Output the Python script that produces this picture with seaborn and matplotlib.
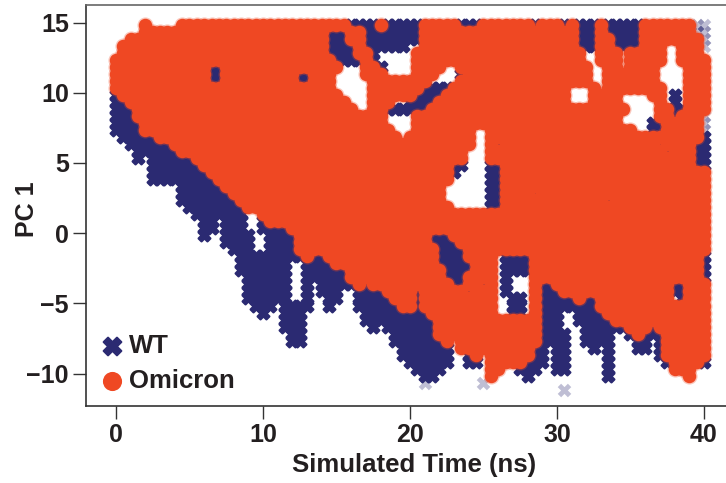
import matplotlib
matplotlib.use("Agg")
import matplotlib.pyplot as plt
import numpy as np
import pandas as pd
import seaborn as sns

# Time grid (ns) and PC 1 levels the picture was read on
times = [0.0, 0.5, 1.0, 1.5, 2.0, 2.5, 3.0, 3.5, 4.0, 4.5, 5.0, 5.5, 6.0, 6.5, 7.0, 7.5, 8.0, 8.5, 9.0, 9.5,
         10.0, 10.5, 11.0, 11.5, 12.0, 12.5, 13.0, 13.5, 14.0, 14.5, 15.0, 15.5, 16.0, 16.5, 17.0, 17.5, 18.0, 18.5, 19.0, 19.5,
         20.0, 20.5, 21.0, 21.5, 22.0, 22.5, 23.0, 23.5, 24.0, 24.5, 25.0, 25.5, 26.0, 26.5, 27.0, 27.5, 28.0, 28.5, 29.0, 29.5,
         30.0, 30.5, 31.0, 31.5, 32.0, 32.5, 33.0, 33.5, 34.0, 34.5, 35.0, 35.5, 36.0, 36.5, 37.0, 37.5, 38.0, 38.5, 39.0, 39.5,
         40.0]
pc1_levels = [14.85, 14.35, 13.85, 13.35, 12.85, 12.35, 11.85, 11.35, 10.85, 10.35,
              9.85, 9.35, 8.85, 8.35, 7.85, 7.35, 6.85, 6.35, 5.85, 5.35,
              4.85, 4.35, 3.85, 3.35, 2.85, 2.35, 1.85, 1.35, 0.85, 0.35,
              -0.15, -0.65, -1.15, -1.65, -2.15, -2.65, -3.15, -3.65, -4.15, -4.65,
              -5.15, -5.65, -6.15, -6.65, -7.15, -7.65, -8.15, -8.65, -9.15, -9.65,
              -10.15, -10.65, -11.15]

# What shows at each time/level: o = Omicron, w = WT, x = lone WT frame
frames = [
    "....o....o oooooooooo oooooooooo oowwwwowww wwooooowww ooooooowoo owowwwowww wwooooooox x",
    "....oooooo oooooooooo ooooooooow wwoowwwwww wwoooooooo oooooooooo ooowwwowww wwooooooox x",
    "..oooooooo oooooooooo ooooooooow wwoowwwwww wwoooooooo oooooooooo ooowwwooww wwoooooooo x",
    ".ooooooooo oooooooooo ooooooooow wwwowwwwww ..oooooooo oooooooooo ooowwwooww wwooo..ooo x",
    ".ooooooooo oooooooooo ooooooooow wwwoow.... .ooooooooo oooooooooo oooo..ooo. ooooo..ooo .",
    "oooooooooo oooooooooo oooooooooo wwwwow.... .ooooooooo oooooooooo oooo..ooo. ooooo..ooo o",
    "oooooooooo ooowwooooo oooooooooo o...oow... .oooo..ooo oooooooooo ooooo..oo. oooo....oo o",
    "oooooooooo ooowwooooo ooooowwooo ....ooo... .ooo...woo oooooooooo ooooo..ooo oooo....oo o",
    "oooooooooo ooowwooooo ooooowwooo .....ooooo ooo....ooo oooooooooo ooooo..ooo oooo....oo o",
    "oooooooooo oooooooooo oooooooooo .....ooooo oowwwwoooo oooooooooo oo...o.ooo ooooo...oo o",
    "wooooooooo oooooooooo oooooooooo o....ooooo owwwwooooo oooooooooo oo...oooo. ...oo.w.oo o",
    "wwoooooooo oooooooooo oooooooooo oo...ooo.. wwwwoooooo oooooooooo oo...oooo. ....o.w.oo o",
    "wwwooooooo oooooooooo oooooooooo ooo..oowww wwwooooooo oooooooooo oooooooooo ....oowwoo o",
    "wwwooooooo oooooooooo oooooooooo ooooooo... .ooooooooo oooooooooo ooooooooo. ....oowooo x",
    "wwwwoooooo oooooooooo oooooooooo ooooooo... .ooooooooo oooooooooo ooooooooo. ...wwooooo x",
    "wwwwoooooo oooooooooo oooooooooo oooooooo.. .oooooooo. .ooooooooo oooooooooo o..wwooooo x",
    ".wwwwwoooo oooooooooo oooooooooo ooooooooo. ooooooooo. .ooooooooo oooooooooo oooooooooo w",
    "..wwwwwwoo oooooooooo oooooooooo oooooooooo ooooooooo. .owooooooo oooooooooo oooowoooow w",
    "...wwwwwwo oooooooooo oooooooooo oooooooooo oooooooo.. .ooooooooo oooooooooo ooooowooow w",
    "...w.wwwww wooooooooo oooooooooo oooooooooo oooooooo.. .ooooooooo oooooooooo ooooooooow w",
    ".....wwwww wwoooooooo oooooooooo oooooooooo ooooooww.. .wwooooooo oooooooooo ooooooooow w",
    ".....wwwww wwwooooooo oooooooooo oooooooooo oooooow... .wwooooooo oooooooooo oooooooooo o",
    ".....wwwww wwwwoooooo oooooooooo oooooooooo oooooo.... .wwooooooo oooooooooo oooooooooo o",
    ".........w wwwwwooooo oooooooooo oooooooooo ooooo..... .wwooooooo oooooooooo oooooooooo o",
    ".........w wwwwwwoooo oooooooooo oooooooooo ooooo..... .wwoooowoo oooooooooo oooooooooo o",
    ".........w wwwwwwwooo oooooooooo oooooooooo ooooo..... .wwooooooo ooooooowoo oooooooooo o",
    ".......... wwwwwwwwoo oooooooooo oooooooooo oooooo.... .wwooooooo oooooooooo oooooooooo o",
    ".......... .wwwwwww.. oooooooooo oooooooooo oooooooooo oooooooooo oooooooooo oooooooooo o",
    ".......... ..ww.www.. wooooooooo oooooooooo oooooooooo oooooooooo oooooooooo oooooooooo o",
    ".......... ..ww.www.. wwwwoooooo oooooooooo oooooooooo oooooooooo oooooooooo oooooooooo o",
    ".......... ..w..wwww. .wwwwooooo oooooooooo ooowwwoooo oooooooooo oooooooooo oooooooooo o",
    ".......... .....wwww. .wwwwooooo oooooooooo ooowwwwooo oooooooooo oooooooooo oooooooooo o",
    ".......... ......www. .wwwwooooo oooooooooo oooowwwwoo oooooooooo oooooooooo oooooooooo o",
    ".......... .......www wwwwwwowwo oooooooooo oooowwwwoo oo.wwwwooo oooooooooo oooooooooo w",
    ".......... .......www wwww..wwww oooooooooo oooowwwwwo oo.wwwwooo oooooooooo oooooooooo w",
    ".......... .......www wwww..wwww wwoooooooo ooooowwwwo oo.wwwwooo oooooooooo oooooooooo w",
    ".......... ........ww wwww..wwww wwoooooooo ooooowwwoo oo.w...ooo oooooooooo oooooooooo w",
    ".......... ........ww wwww..w.ww wwwowooooo oooooowwoo wo.w...oww oooooooooo oooooowwoo o",
    ".......... ........ww wwww..w.ww w..wwwwooo owoooooowo oo.w...oww wooooooooo oooooowwoo o",
    ".......... ........ww wwww..w..w w..wwwwwoo owoooooooo oo..ww.oww wwwowwoooo oooooo.woo o",
    ".......... .........w ww.wwww..w ...wwwwwwo owoooooooo oo..ww.oww wwwwwwoooo oooooooooo o",
    ".......... .......... w..www.... ....wwwwww wwwooooooo oo..ww.oww w..wwwwooo oooooooooo o",
    ".......... .......... ...www.... ....wwwwww wwwwoooooo ooooooooww w..wwwwwoo oooooooooo o",
    ".......... .......... ...www.... .....w.www wwwwoooooo ooooooooww w...wwwwww ooowoooooo o",
    ".......... .......... ....ww.... ........ww wwwwoooooo ooooooooww ww..wwww.. wowwwooooo o",
    ".......... .......... ....ww.... ........ww wwwwwo.ooo ooooooooww ww..wwww.. .ww.wooooo o",
    ".......... .......... .......... .........w wwwwww.ooo oooooooww. ww...w.w.. .ww.wooooo o",
    ".......... .......... .......... .........w wwwwww..wo .ooooooww. ww.....w.. ....wooooo o",
    ".......... .......... .......... .......... wwwwww..ww .ooooowww. ww.....w.. .....woooo w",
    ".......... .......... .......... .......... .wwww..... .oo..www.. ww.....w.. ......ooo. .",
    ".......... .......... .......... .......... ..ww...... .o....w... .......w.. ........o. .",
    ".......... .......... .......... .......... ..x....... x......... .......... .......... .",
    ".......... .......... .......... .......... .......... .......... .x........ .......... .",
]

x_ticks = [0, 10, 20, 30, 40]
y_ticks = [-10, -5, 0, 5, 10, 15]
y_tick_labels = ["\u221210", "\u22125", "0", "5", "10", "15"]

variants = ["WT", "Omicron"]
colors = {"WT": "#2B2A72", "Omicron": "#EF4823"}
markers = {"WT": "X", "Omicron": "o"}
codes = {"WT": "wx", "Omicron": "o"}

rows = []
for level, frame in zip(pc1_levels, frames):
    for t, c in zip(times, frame.replace(" ", "")):
        for v in variants:
            if c in codes[v]:
                rows.append({"time": t, "pc1": level, "variant": v, "solid": c != "x"})
df = pd.DataFrame(rows)

sns.set_theme(style="ticks")
plt.rcParams["font.family"] = ["Liberation Sans", "DejaVu Sans"]
plt.rcParams["font.weight"] = "bold"
plt.rcParams["axes.labelweight"] = "bold"

fig = plt.figure(figsize=(7.26, 4.83), dpi=100)
ax = fig.add_axes([86 / 726, 1 - 405.5 / 483, 640 / 726, 400.5 / 483])

halo_size = {"WT": 95, "Omicron": 135}
core_size = {"WT": 72, "Omicron": 94}
core_edge = {"WT": 1.6, "Omicron": 0}
for v in variants:
    part = df[df["variant"] == v]
    # soft see-through rim first, then the overlapped solid part on top
    sns.scatterplot(data=part, x="time", y="pc1", marker=markers[v], color=colors[v], s=halo_size[v],
                    alpha=0.3, linewidth=0, legend=False, ax=ax)
    sns.scatterplot(data=part[part["solid"]], x="time", y="pc1", marker=markers[v], color=colors[v],
                    s=core_size[v], linewidth=core_edge[v], edgecolor=colors[v], label=v, ax=ax)

ax.set_xlim(-2.04, 41.5)
ax.set_ylim(-12.27, 16.25)
ax.set_xticks(x_ticks)
ax.set_yticks(y_ticks)
ax.set_yticklabels(y_tick_labels)
ax.tick_params(labelsize=18, length=9.4, width=1.0, color="#333333", labelcolor="#231F20", pad=3)
ax.set_xlabel("Simulated Time (ns)", fontsize=18.5, color="#231F20")
ax.set_ylabel("PC 1", fontsize=18, color="#231F20")
ax.xaxis.set_label_coords((414.5 - 86) / 640, -0.1175)
ax.yaxis.set_label_coords(-0.0737, 0.49)
for s in ax.spines.values():
    s.set_linewidth(1.2)
    s.set_color("#333333")
ax.spines["right"].set_visible(False)
ax.spines["top"].set_color("#666666")

leg = ax.legend(loc="lower left", frameon=False, fontsize=18.5, handlelength=1, handletextpad=0.16,
                labelspacing=0.43, borderaxespad=0, borderpad=0, bbox_to_anchor=(0.0206, 0.031))
for h, t in zip(leg.legend_handles, leg.get_texts()):
    h.set_sizes([190])
    h.set_linewidth(0)
    t.set_color("#231F20")
leg.legend_handles[0].set_sizes([165])
leg.legend_handles[0].set_linewidth(1.4)

fig.savefig("out.png", dpi=100)
